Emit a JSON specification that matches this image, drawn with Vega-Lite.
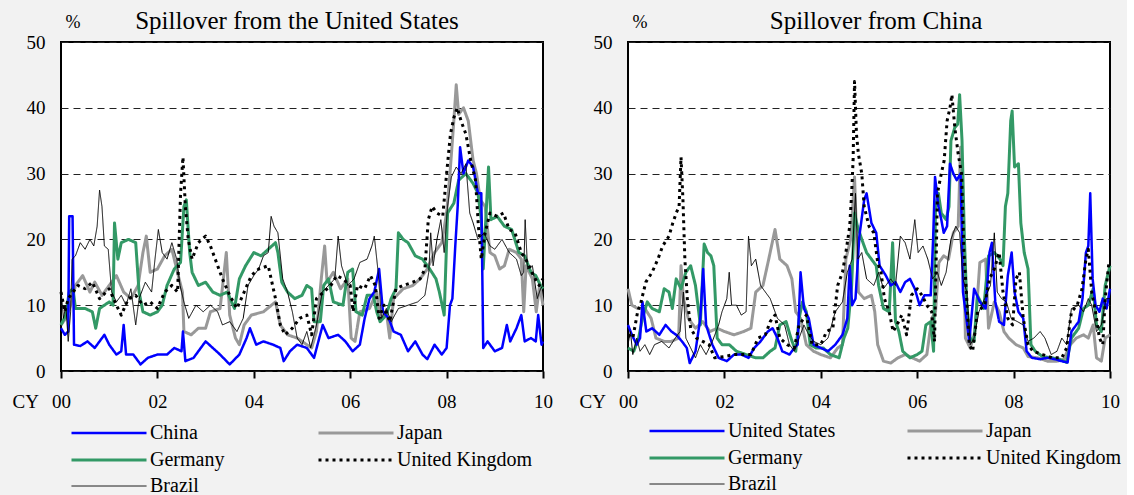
{
"$schema":"https://vega.github.io/schema/vega-lite/v6.json",
"background":"#f2f2f2",
"padding":{"left":11,"top":8,"right":5,"bottom":5},
"bounds":"flush",
"spacing":85,
"config":{
 "font":"Liberation Serif",
 "view":{"stroke":"black","strokeWidth":2,"fill":"white"},
 "title":{"fontSize":25,"fontWeight":"normal","frame":"group","offset":-21,"color":"black","anchor":"middle"},
 "axis":{"labelColor":"black","titleColor":"black","labelFontSize":19,"titleFontSize":19,"titleFontWeight":"normal","labelFlush":false,"labelOverlap":false,"labelBound":false},
 "legend":{"labelColor":"black","labelFontSize":20}
},
"datasets":{
"us":[
{"s":"Japan","t":2000,"v":7},{"s":"Japan","t":2000.1,"v":8},{"s":"Japan","t":2000.2,"v":10},{"s":"Japan","t":2000.3,"v":13},{"s":"Japan","t":2000.45,"v":14.5},{"s":"Japan","t":2000.6,"v":12},{"s":"Japan","t":2000.7,"v":13.5},{"s":"Japan","t":2000.85,"v":11.5},{"s":"Japan","t":2001,"v":13},{"s":"Japan","t":2001.15,"v":14.5},{"s":"Japan","t":2001.3,"v":12},{"s":"Japan","t":2001.45,"v":11},{"s":"Japan","t":2001.6,"v":13},{"s":"Japan","t":2001.7,"v":18},{"s":"Japan","t":2001.77,"v":20.5},{"s":"Japan","t":2001.85,"v":15},{"s":"Japan","t":2002,"v":15.5},{"s":"Japan","t":2002.15,"v":17.5},{"s":"Japan","t":2002.3,"v":18.5},{"s":"Japan","t":2002.45,"v":14},{"s":"Japan","t":2002.52,"v":12},{"s":"Japan","t":2002.55,"v":6},{"s":"Japan","t":2002.7,"v":5.5},{"s":"Japan","t":2002.85,"v":6.5},{"s":"Japan","t":2003,"v":6.5},{"s":"Japan","t":2003.1,"v":9},{"s":"Japan","t":2003.3,"v":9.5},{"s":"Japan","t":2003.43,"v":18},{"s":"Japan","t":2003.5,"v":8.5},{"s":"Japan","t":2003.62,"v":5},{"s":"Japan","t":2003.7,"v":4},{"s":"Japan","t":2003.8,"v":7},{"s":"Japan","t":2003.95,"v":8.5},{"s":"Japan","t":2004.2,"v":9},{"s":"Japan","t":2004.45,"v":10.5},{"s":"Japan","t":2004.55,"v":7},{"s":"Japan","t":2004.7,"v":5.5},{"s":"Japan","t":2004.9,"v":5},{"s":"Japan","t":2005.1,"v":4},{"s":"Japan","t":2005.2,"v":3.5},{"s":"Japan","t":2005.3,"v":6},{"s":"Japan","t":2005.4,"v":14},{"s":"Japan","t":2005.47,"v":19},{"s":"Japan","t":2005.52,"v":13.5},{"s":"Japan","t":2005.65,"v":15},{"s":"Japan","t":2005.8,"v":12.5},{"s":"Japan","t":2005.95,"v":14},{"s":"Japan","t":2006.02,"v":5},{"s":"Japan","t":2006.1,"v":4.5},{"s":"Japan","t":2006.2,"v":9},{"s":"Japan","t":2006.4,"v":9.5},{"s":"Japan","t":2006.55,"v":12},{"s":"Japan","t":2006.62,"v":8},{"s":"Japan","t":2006.75,"v":9},{"s":"Japan","t":2006.82,"v":5},{"s":"Japan","t":2006.9,"v":11},{"s":"Japan","t":2007.1,"v":12.5},{"s":"Japan","t":2007.3,"v":13},{"s":"Japan","t":2007.45,"v":14},{"s":"Japan","t":2007.6,"v":15.5},{"s":"Japan","t":2007.75,"v":18},{"s":"Japan","t":2007.9,"v":19.5},{"s":"Japan","t":2008,"v":24},{"s":"Japan","t":2008.07,"v":30},{"s":"Japan","t":2008.15,"v":38},{"s":"Japan","t":2008.2,"v":43.5},{"s":"Japan","t":2008.25,"v":39},{"s":"Japan","t":2008.35,"v":40},{"s":"Japan","t":2008.45,"v":38},{"s":"Japan","t":2008.55,"v":32},{"s":"Japan","t":2008.62,"v":30},{"s":"Japan","t":2008.7,"v":26},{"s":"Japan","t":2008.8,"v":25},{"s":"Japan","t":2008.9,"v":18},{"s":"Japan","t":2009,"v":17.5},{"s":"Japan","t":2009.1,"v":15.5},{"s":"Japan","t":2009.2,"v":16},{"s":"Japan","t":2009.3,"v":18.5},{"s":"Japan","t":2009.45,"v":18},{"s":"Japan","t":2009.55,"v":17},{"s":"Japan","t":2009.6,"v":9},{"s":"Japan","t":2009.65,"v":16},{"s":"Japan","t":2009.78,"v":14},{"s":"Japan","t":2009.86,"v":9},{"s":"Japan","t":2009.93,"v":13},{"s":"Japan","t":2010,"v":10},
{"s":"Germany","t":2000,"v":7},{"s":"Germany","t":2000.1,"v":8.5},{"s":"Germany","t":2000.17,"v":12},{"s":"Germany","t":2000.25,"v":12.5},{"s":"Germany","t":2000.3,"v":9.5},{"s":"Germany","t":2000.5,"v":9.5},{"s":"Germany","t":2000.65,"v":9},{"s":"Germany","t":2000.72,"v":6.5},{"s":"Germany","t":2000.8,"v":9.5},{"s":"Germany","t":2001,"v":10.5},{"s":"Germany","t":2001.08,"v":10},{"s":"Germany","t":2001.11,"v":22.5},{"s":"Germany","t":2001.18,"v":17},{"s":"Germany","t":2001.25,"v":19.5},{"s":"Germany","t":2001.4,"v":20},{"s":"Germany","t":2001.55,"v":19.5},{"s":"Germany","t":2001.62,"v":12},{"s":"Germany","t":2001.7,"v":9},{"s":"Germany","t":2001.85,"v":8.5},{"s":"Germany","t":2002,"v":9},{"s":"Germany","t":2002.1,"v":10},{"s":"Germany","t":2002.2,"v":13},{"s":"Germany","t":2002.35,"v":15.5},{"s":"Germany","t":2002.48,"v":16.5},{"s":"Germany","t":2002.55,"v":25},{"s":"Germany","t":2002.6,"v":26},{"s":"Germany","t":2002.67,"v":18},{"s":"Germany","t":2002.72,"v":15},{"s":"Germany","t":2002.85,"v":13},{"s":"Germany","t":2003,"v":13.5},{"s":"Germany","t":2003.15,"v":12},{"s":"Germany","t":2003.3,"v":11.5},{"s":"Germany","t":2003.45,"v":12},{"s":"Germany","t":2003.6,"v":9.5},{"s":"Germany","t":2003.7,"v":14},{"s":"Germany","t":2003.83,"v":16},{"s":"Germany","t":2004,"v":18},{"s":"Germany","t":2004.15,"v":17.5},{"s":"Germany","t":2004.3,"v":18.5},{"s":"Germany","t":2004.45,"v":19.5},{"s":"Germany","t":2004.5,"v":18},{"s":"Germany","t":2004.58,"v":13.5},{"s":"Germany","t":2004.7,"v":12},{"s":"Germany","t":2004.85,"v":11},{"s":"Germany","t":2005,"v":11.5},{"s":"Germany","t":2005.1,"v":13},{"s":"Germany","t":2005.2,"v":12.5},{"s":"Germany","t":2005.25,"v":7.5},{"s":"Germany","t":2005.38,"v":7.5},{"s":"Germany","t":2005.45,"v":13},{"s":"Germany","t":2005.55,"v":14},{"s":"Germany","t":2005.65,"v":10.5},{"s":"Germany","t":2005.85,"v":10},{"s":"Germany","t":2005.95,"v":15},{"s":"Germany","t":2006.05,"v":15.5},{"s":"Germany","t":2006.12,"v":9},{"s":"Germany","t":2006.25,"v":8.5},{"s":"Germany","t":2006.35,"v":11.5},{"s":"Germany","t":2006.48,"v":11.5},{"s":"Germany","t":2006.55,"v":9},{"s":"Germany","t":2006.62,"v":7.5},{"s":"Germany","t":2006.75,"v":8.5},{"s":"Germany","t":2006.85,"v":11},{"s":"Germany","t":2006.95,"v":12.5},{"s":"Germany","t":2007,"v":21},{"s":"Germany","t":2007.1,"v":20},{"s":"Germany","t":2007.2,"v":19.5},{"s":"Germany","t":2007.35,"v":17.5},{"s":"Germany","t":2007.5,"v":17},{"s":"Germany","t":2007.65,"v":15.5},{"s":"Germany","t":2007.78,"v":14},{"s":"Germany","t":2007.85,"v":12},{"s":"Germany","t":2007.95,"v":8.5},{"s":"Germany","t":2008.02,"v":24},{"s":"Germany","t":2008.15,"v":25.5},{"s":"Germany","t":2008.25,"v":29},{"s":"Germany","t":2008.4,"v":30},{"s":"Germany","t":2008.55,"v":28.5},{"s":"Germany","t":2008.65,"v":27},{"s":"Germany","t":2008.72,"v":23},{"s":"Germany","t":2008.76,"v":15.5},{"s":"Germany","t":2008.82,"v":24},{"s":"Germany","t":2008.87,"v":31},{"s":"Germany","t":2008.92,"v":23},{"s":"Germany","t":2009.05,"v":23.5},{"s":"Germany","t":2009.2,"v":22},{"s":"Germany","t":2009.35,"v":21.5},{"s":"Germany","t":2009.5,"v":18},{"s":"Germany","t":2009.62,"v":17.5},{"s":"Germany","t":2009.75,"v":15},{"s":"Germany","t":2009.85,"v":14.5},{"s":"Germany","t":2009.95,"v":13},{"s":"Germany","t":2010,"v":12.5},
{"s":"China","t":2000,"v":6.5},{"s":"China","t":2000.08,"v":5.5},{"s":"China","t":2000.15,"v":6},{"s":"China","t":2000.17,"v":23.5},{"s":"China","t":2000.24,"v":23.5},{"s":"China","t":2000.27,"v":4},{"s":"China","t":2000.4,"v":3.8},{"s":"China","t":2000.55,"v":4.5},{"s":"China","t":2000.7,"v":3.5},{"s":"China","t":2000.9,"v":5.5},{"s":"China","t":2001,"v":4},{"s":"China","t":2001.15,"v":2.5},{"s":"China","t":2001.25,"v":3},{"s":"China","t":2001.3,"v":7},{"s":"China","t":2001.35,"v":2.5},{"s":"China","t":2001.5,"v":2.5},{"s":"China","t":2001.65,"v":1},{"s":"China","t":2001.8,"v":2},{"s":"China","t":2002,"v":2.5},{"s":"China","t":2002.2,"v":2.5},{"s":"China","t":2002.35,"v":3.5},{"s":"China","t":2002.5,"v":3},{"s":"China","t":2002.53,"v":6},{"s":"China","t":2002.58,"v":1.5},{"s":"China","t":2002.75,"v":2},{"s":"China","t":2002.9,"v":3.5},{"s":"China","t":2003,"v":4.5},{"s":"China","t":2003.15,"v":3.5},{"s":"China","t":2003.3,"v":2.5},{"s":"China","t":2003.5,"v":1},{"s":"China","t":2003.7,"v":2.5},{"s":"China","t":2003.85,"v":5},{"s":"China","t":2003.92,"v":6.5},{"s":"China","t":2004.05,"v":4},{"s":"China","t":2004.2,"v":4.5},{"s":"China","t":2004.4,"v":4},{"s":"China","t":2004.55,"v":3.5},{"s":"China","t":2004.62,"v":1.5},{"s":"China","t":2004.75,"v":3},{"s":"China","t":2004.9,"v":4},{"s":"China","t":2005.1,"v":3.5},{"s":"China","t":2005.25,"v":2},{"s":"China","t":2005.43,"v":7},{"s":"China","t":2005.55,"v":5},{"s":"China","t":2005.75,"v":5.5},{"s":"China","t":2005.9,"v":4.5},{"s":"China","t":2006.05,"v":3},{"s":"China","t":2006.2,"v":4},{"s":"China","t":2006.3,"v":8},{"s":"China","t":2006.4,"v":11},{"s":"China","t":2006.5,"v":12},{"s":"China","t":2006.6,"v":15.5},{"s":"China","t":2006.68,"v":9},{"s":"China","t":2006.8,"v":8},{"s":"China","t":2006.9,"v":6},{"s":"China","t":2007.05,"v":5.5},{"s":"China","t":2007.2,"v":3},{"s":"China","t":2007.35,"v":4.5},{"s":"China","t":2007.5,"v":2.5},{"s":"China","t":2007.6,"v":1.8},{"s":"China","t":2007.75,"v":4},{"s":"China","t":2007.9,"v":2.5},{"s":"China","t":2008,"v":3.5},{"s":"China","t":2008.07,"v":10},{"s":"China","t":2008.12,"v":11},{"s":"China","t":2008.18,"v":19},{"s":"China","t":2008.23,"v":25},{"s":"China","t":2008.28,"v":34},{"s":"China","t":2008.35,"v":30},{"s":"China","t":2008.45,"v":32},{"s":"China","t":2008.55,"v":31},{"s":"China","t":2008.65,"v":27},{"s":"China","t":2008.72,"v":27},{"s":"China","t":2008.76,"v":3.5},{"s":"China","t":2008.85,"v":4.5},{"s":"China","t":2009,"v":3},{"s":"China","t":2009.15,"v":3.5},{"s":"China","t":2009.25,"v":7},{"s":"China","t":2009.32,"v":4.5},{"s":"China","t":2009.45,"v":6.5},{"s":"China","t":2009.55,"v":8.5},{"s":"China","t":2009.62,"v":4.5},{"s":"China","t":2009.75,"v":5},{"s":"China","t":2009.85,"v":4.5},{"s":"China","t":2009.9,"v":8.5},{"s":"China","t":2009.97,"v":4},{"s":"China","t":2010,"v":4.5},
{"s":"United Kingdom","t":2000,"v":12},{"s":"United Kingdom","t":2000.08,"v":9},{"s":"United Kingdom","t":2000.15,"v":11},{"s":"United Kingdom","t":2000.25,"v":12},{"s":"United Kingdom","t":2000.35,"v":13},{"s":"United Kingdom","t":2000.5,"v":12.5},{"s":"United Kingdom","t":2000.65,"v":13.5},{"s":"United Kingdom","t":2000.8,"v":11},{"s":"United Kingdom","t":2001,"v":12.5},{"s":"United Kingdom","t":2001.15,"v":10},{"s":"United Kingdom","t":2001.25,"v":8.5},{"s":"United Kingdom","t":2001.4,"v":11},{"s":"United Kingdom","t":2001.55,"v":11.5},{"s":"United Kingdom","t":2001.7,"v":10},{"s":"United Kingdom","t":2001.85,"v":10.5},{"s":"United Kingdom","t":2002,"v":9.5},{"s":"United Kingdom","t":2002.15,"v":12},{"s":"United Kingdom","t":2002.3,"v":13},{"s":"United Kingdom","t":2002.42,"v":12},{"s":"United Kingdom","t":2002.48,"v":27},{"s":"United Kingdom","t":2002.53,"v":32.5},{"s":"United Kingdom","t":2002.58,"v":25},{"s":"United Kingdom","t":2002.64,"v":20},{"s":"United Kingdom","t":2002.72,"v":17},{"s":"United Kingdom","t":2002.85,"v":19.5},{"s":"United Kingdom","t":2003,"v":20.5},{"s":"United Kingdom","t":2003.1,"v":19},{"s":"United Kingdom","t":2003.2,"v":17},{"s":"United Kingdom","t":2003.35,"v":14},{"s":"United Kingdom","t":2003.5,"v":11.5},{"s":"United Kingdom","t":2003.65,"v":9.5},{"s":"United Kingdom","t":2003.8,"v":12},{"s":"United Kingdom","t":2003.95,"v":14.5},{"s":"United Kingdom","t":2004.1,"v":15.5},{"s":"United Kingdom","t":2004.3,"v":16},{"s":"United Kingdom","t":2004.45,"v":11},{"s":"United Kingdom","t":2004.55,"v":7},{"s":"United Kingdom","t":2004.65,"v":5.5},{"s":"United Kingdom","t":2004.8,"v":6.5},{"s":"United Kingdom","t":2004.95,"v":8},{"s":"United Kingdom","t":2005.1,"v":8.5},{"s":"United Kingdom","t":2005.2,"v":5.5},{"s":"United Kingdom","t":2005.3,"v":11},{"s":"United Kingdom","t":2005.45,"v":12},{"s":"United Kingdom","t":2005.6,"v":13},{"s":"United Kingdom","t":2005.72,"v":14.5},{"s":"United Kingdom","t":2005.85,"v":14},{"s":"United Kingdom","t":2006,"v":13},{"s":"United Kingdom","t":2006.06,"v":9},{"s":"United Kingdom","t":2006.15,"v":13},{"s":"United Kingdom","t":2006.3,"v":12.5},{"s":"United Kingdom","t":2006.42,"v":14.5},{"s":"United Kingdom","t":2006.52,"v":13},{"s":"United Kingdom","t":2006.6,"v":8},{"s":"United Kingdom","t":2006.7,"v":10},{"s":"United Kingdom","t":2006.82,"v":7.5},{"s":"United Kingdom","t":2006.95,"v":12.5},{"s":"United Kingdom","t":2007.1,"v":13},{"s":"United Kingdom","t":2007.3,"v":13.5},{"s":"United Kingdom","t":2007.45,"v":14},{"s":"United Kingdom","t":2007.55,"v":15.5},{"s":"United Kingdom","t":2007.62,"v":23},{"s":"United Kingdom","t":2007.7,"v":25},{"s":"United Kingdom","t":2007.8,"v":24},{"s":"United Kingdom","t":2007.92,"v":23.5},{"s":"United Kingdom","t":2008,"v":30},{"s":"United Kingdom","t":2008.08,"v":36},{"s":"United Kingdom","t":2008.15,"v":38.5},{"s":"United Kingdom","t":2008.22,"v":40},{"s":"United Kingdom","t":2008.3,"v":38},{"s":"United Kingdom","t":2008.4,"v":36},{"s":"United Kingdom","t":2008.5,"v":32},{"s":"United Kingdom","t":2008.6,"v":29},{"s":"United Kingdom","t":2008.66,"v":22},{"s":"United Kingdom","t":2008.72,"v":17},{"s":"United Kingdom","t":2008.8,"v":21},{"s":"United Kingdom","t":2008.9,"v":24},{"s":"United Kingdom","t":2009.05,"v":23.5},{"s":"United Kingdom","t":2009.18,"v":24},{"s":"United Kingdom","t":2009.3,"v":21.5},{"s":"United Kingdom","t":2009.42,"v":21},{"s":"United Kingdom","t":2009.55,"v":18},{"s":"United Kingdom","t":2009.68,"v":16.5},{"s":"United Kingdom","t":2009.8,"v":14.5},{"s":"United Kingdom","t":2009.92,"v":13},{"s":"United Kingdom","t":2010,"v":14},
{"s":"Brazil","t":2000,"v":12.5},{"s":"Brazil","t":2000.05,"v":8},{"s":"Brazil","t":2000.1,"v":10},{"s":"Brazil","t":2000.15,"v":4.5},{"s":"Brazil","t":2000.2,"v":9},{"s":"Brazil","t":2000.23,"v":17},{"s":"Brazil","t":2000.3,"v":17.5},{"s":"Brazil","t":2000.4,"v":19.5},{"s":"Brazil","t":2000.5,"v":18.5},{"s":"Brazil","t":2000.6,"v":20},{"s":"Brazil","t":2000.68,"v":19},{"s":"Brazil","t":2000.75,"v":22},{"s":"Brazil","t":2000.8,"v":27.5},{"s":"Brazil","t":2000.85,"v":25},{"s":"Brazil","t":2000.9,"v":19},{"s":"Brazil","t":2000.98,"v":18.5},{"s":"Brazil","t":2001.05,"v":12},{"s":"Brazil","t":2001.15,"v":10.5},{"s":"Brazil","t":2001.25,"v":11.5},{"s":"Brazil","t":2001.35,"v":10},{"s":"Brazil","t":2001.45,"v":12.5},{"s":"Brazil","t":2001.55,"v":7},{"s":"Brazil","t":2001.62,"v":11},{"s":"Brazil","t":2001.75,"v":13.5},{"s":"Brazil","t":2001.88,"v":12},{"s":"Brazil","t":2001.95,"v":17},{"s":"Brazil","t":2002.02,"v":21.5},{"s":"Brazil","t":2002.1,"v":18},{"s":"Brazil","t":2002.2,"v":17},{"s":"Brazil","t":2002.3,"v":19.5},{"s":"Brazil","t":2002.4,"v":17},{"s":"Brazil","t":2002.47,"v":13},{"s":"Brazil","t":2002.55,"v":10.5},{"s":"Brazil","t":2002.65,"v":8},{"s":"Brazil","t":2002.8,"v":10},{"s":"Brazil","t":2002.95,"v":9},{"s":"Brazil","t":2003.1,"v":10},{"s":"Brazil","t":2003.25,"v":9},{"s":"Brazil","t":2003.35,"v":7},{"s":"Brazil","t":2003.5,"v":7.5},{"s":"Brazil","t":2003.65,"v":6},{"s":"Brazil","t":2003.78,"v":8},{"s":"Brazil","t":2003.88,"v":13},{"s":"Brazil","t":2004,"v":14.5},{"s":"Brazil","t":2004.1,"v":15.5},{"s":"Brazil","t":2004.2,"v":17.5},{"s":"Brazil","t":2004.3,"v":18},{"s":"Brazil","t":2004.36,"v":23.5},{"s":"Brazil","t":2004.42,"v":22},{"s":"Brazil","t":2004.5,"v":21},{"s":"Brazil","t":2004.6,"v":14},{"s":"Brazil","t":2004.7,"v":12},{"s":"Brazil","t":2004.8,"v":9},{"s":"Brazil","t":2004.9,"v":5},{"s":"Brazil","t":2005,"v":4},{"s":"Brazil","t":2005.1,"v":6},{"s":"Brazil","t":2005.18,"v":3.5},{"s":"Brazil","t":2005.3,"v":7},{"s":"Brazil","t":2005.42,"v":12},{"s":"Brazil","t":2005.55,"v":13},{"s":"Brazil","t":2005.68,"v":14},{"s":"Brazil","t":2005.75,"v":20.5},{"s":"Brazil","t":2005.82,"v":16},{"s":"Brazil","t":2005.95,"v":13},{"s":"Brazil","t":2006.08,"v":14},{"s":"Brazil","t":2006.2,"v":16.5},{"s":"Brazil","t":2006.35,"v":17},{"s":"Brazil","t":2006.45,"v":19},{"s":"Brazil","t":2006.5,"v":20.5},{"s":"Brazil","t":2006.58,"v":15},{"s":"Brazil","t":2006.65,"v":8},{"s":"Brazil","t":2006.75,"v":9.5},{"s":"Brazil","t":2006.85,"v":7.5},{"s":"Brazil","t":2007,"v":9.5},{"s":"Brazil","t":2007.2,"v":10},{"s":"Brazil","t":2007.4,"v":10.5},{"s":"Brazil","t":2007.55,"v":11.5},{"s":"Brazil","t":2007.63,"v":15},{"s":"Brazil","t":2007.67,"v":21},{"s":"Brazil","t":2007.72,"v":16},{"s":"Brazil","t":2007.8,"v":20},{"s":"Brazil","t":2007.88,"v":23},{"s":"Brazil","t":2007.95,"v":18},{"s":"Brazil","t":2008.02,"v":25},{"s":"Brazil","t":2008.1,"v":29.5},{"s":"Brazil","t":2008.2,"v":31},{"s":"Brazil","t":2008.3,"v":30},{"s":"Brazil","t":2008.4,"v":31.5},{"s":"Brazil","t":2008.48,"v":24},{"s":"Brazil","t":2008.55,"v":22.5},{"s":"Brazil","t":2008.65,"v":20},{"s":"Brazil","t":2008.78,"v":21},{"s":"Brazil","t":2008.9,"v":19},{"s":"Brazil","t":2009,"v":18.5},{"s":"Brazil","t":2009.15,"v":20},{"s":"Brazil","t":2009.3,"v":18},{"s":"Brazil","t":2009.45,"v":17},{"s":"Brazil","t":2009.55,"v":14.5},{"s":"Brazil","t":2009.6,"v":15},{"s":"Brazil","t":2009.63,"v":23},{"s":"Brazil","t":2009.68,"v":15.5},{"s":"Brazil","t":2009.78,"v":16},{"s":"Brazil","t":2009.88,"v":11},{"s":"Brazil","t":2009.95,"v":12.5},{"s":"Brazil","t":2010,"v":13}
],
"cn":[
{"s":"Japan","t":2000,"v":12.5},{"s":"Japan","t":2000.08,"v":10},{"s":"Japan","t":2000.2,"v":9.5},{"s":"Japan","t":2000.35,"v":9.5},{"s":"Japan","t":2000.48,"v":8},{"s":"Japan","t":2000.58,"v":5},{"s":"Japan","t":2000.75,"v":4.5},{"s":"Japan","t":2000.9,"v":4.5},{"s":"Japan","t":2001.05,"v":5},{"s":"Japan","t":2001.1,"v":16},{"s":"Japan","t":2001.15,"v":11},{"s":"Japan","t":2001.25,"v":8},{"s":"Japan","t":2001.4,"v":6.5},{"s":"Japan","t":2001.55,"v":7.5},{"s":"Japan","t":2001.7,"v":6},{"s":"Japan","t":2001.85,"v":6.5},{"s":"Japan","t":2002,"v":6},{"s":"Japan","t":2002.2,"v":5.5},{"s":"Japan","t":2002.4,"v":6},{"s":"Japan","t":2002.55,"v":6.5},{"s":"Japan","t":2002.65,"v":12},{"s":"Japan","t":2002.8,"v":13},{"s":"Japan","t":2002.92,"v":17},{"s":"Japan","t":2003.05,"v":21.5},{"s":"Japan","t":2003.15,"v":17},{"s":"Japan","t":2003.3,"v":16},{"s":"Japan","t":2003.4,"v":14},{"s":"Japan","t":2003.48,"v":9},{"s":"Japan","t":2003.58,"v":8},{"s":"Japan","t":2003.7,"v":4},{"s":"Japan","t":2003.85,"v":3},{"s":"Japan","t":2004,"v":2.5},{"s":"Japan","t":2004.2,"v":2},{"s":"Japan","t":2004.35,"v":3.5},{"s":"Japan","t":2004.45,"v":4},{"s":"Japan","t":2004.52,"v":17},{"s":"Japan","t":2004.62,"v":20},{"s":"Japan","t":2004.7,"v":29.5},{"s":"Japan","t":2004.78,"v":12},{"s":"Japan","t":2004.9,"v":11},{"s":"Japan","t":2005.05,"v":11.5},{"s":"Japan","t":2005.12,"v":9},{"s":"Japan","t":2005.18,"v":4},{"s":"Japan","t":2005.3,"v":1.5},{"s":"Japan","t":2005.45,"v":1.2},{"s":"Japan","t":2005.6,"v":2},{"s":"Japan","t":2005.75,"v":2.5},{"s":"Japan","t":2005.9,"v":2},{"s":"Japan","t":2006.05,"v":1.5},{"s":"Japan","t":2006.2,"v":2.5},{"s":"Japan","t":2006.3,"v":8},{"s":"Japan","t":2006.38,"v":9},{"s":"Japan","t":2006.45,"v":16.5},{"s":"Japan","t":2006.55,"v":17.5},{"s":"Japan","t":2006.65,"v":17},{"s":"Japan","t":2006.75,"v":21},{"s":"Japan","t":2006.85,"v":22},{"s":"Japan","t":2006.9,"v":34},{"s":"Japan","t":2006.95,"v":25},{"s":"Japan","t":2007,"v":5},{"s":"Japan","t":2007.1,"v":3.5},{"s":"Japan","t":2007.2,"v":6},{"s":"Japan","t":2007.3,"v":16.5},{"s":"Japan","t":2007.42,"v":17},{"s":"Japan","t":2007.48,"v":6.5},{"s":"Japan","t":2007.6,"v":10.5},{"s":"Japan","t":2007.7,"v":9},{"s":"Japan","t":2007.8,"v":6},{"s":"Japan","t":2007.9,"v":5},{"s":"Japan","t":2008.05,"v":4},{"s":"Japan","t":2008.2,"v":3.5},{"s":"Japan","t":2008.3,"v":2.2},{"s":"Japan","t":2008.5,"v":2},{"s":"Japan","t":2008.7,"v":1.5},{"s":"Japan","t":2008.9,"v":1.5},{"s":"Japan","t":2009.05,"v":1.8},{"s":"Japan","t":2009.15,"v":3.8},{"s":"Japan","t":2009.3,"v":5},{"s":"Japan","t":2009.45,"v":5.5},{"s":"Japan","t":2009.55,"v":5},{"s":"Japan","t":2009.65,"v":7},{"s":"Japan","t":2009.72,"v":2},{"s":"Japan","t":2009.82,"v":1.5},{"s":"Japan","t":2009.9,"v":5},{"s":"Japan","t":2010,"v":5.5},
{"s":"Germany","t":2000,"v":3.5},{"s":"Germany","t":2000.12,"v":3},{"s":"Germany","t":2000.22,"v":5},{"s":"Germany","t":2000.3,"v":8},{"s":"Germany","t":2000.4,"v":10.5},{"s":"Germany","t":2000.5,"v":9.5},{"s":"Germany","t":2000.65,"v":9},{"s":"Germany","t":2000.75,"v":12.5},{"s":"Germany","t":2000.85,"v":12},{"s":"Germany","t":2000.92,"v":9.5},{"s":"Germany","t":2001,"v":14},{"s":"Germany","t":2001.1,"v":12.5},{"s":"Germany","t":2001.2,"v":15},{"s":"Germany","t":2001.3,"v":16},{"s":"Germany","t":2001.4,"v":13},{"s":"Germany","t":2001.5,"v":7},{"s":"Germany","t":2001.58,"v":19.3},{"s":"Germany","t":2001.65,"v":18},{"s":"Germany","t":2001.72,"v":17.5},{"s":"Germany","t":2001.78,"v":16},{"s":"Germany","t":2001.85,"v":5},{"s":"Germany","t":2001.95,"v":4},{"s":"Germany","t":2002.1,"v":4},{"s":"Germany","t":2002.25,"v":3},{"s":"Germany","t":2002.45,"v":2.5},{"s":"Germany","t":2002.65,"v":2},{"s":"Germany","t":2002.8,"v":2},{"s":"Germany","t":2002.95,"v":3},{"s":"Germany","t":2003.05,"v":3.5},{"s":"Germany","t":2003.15,"v":7},{"s":"Germany","t":2003.28,"v":7.5},{"s":"Germany","t":2003.38,"v":5},{"s":"Germany","t":2003.48,"v":3},{"s":"Germany","t":2003.55,"v":8},{"s":"Germany","t":2003.62,"v":10.5},{"s":"Germany","t":2003.7,"v":9},{"s":"Germany","t":2003.78,"v":4},{"s":"Germany","t":2003.9,"v":3.5},{"s":"Germany","t":2004.05,"v":3.5},{"s":"Germany","t":2004.2,"v":2.5},{"s":"Germany","t":2004.38,"v":2},{"s":"Germany","t":2004.48,"v":5},{"s":"Germany","t":2004.56,"v":6.5},{"s":"Germany","t":2004.64,"v":13},{"s":"Germany","t":2004.7,"v":24},{"s":"Germany","t":2004.76,"v":22},{"s":"Germany","t":2004.85,"v":20},{"s":"Germany","t":2004.95,"v":18},{"s":"Germany","t":2005.05,"v":17},{"s":"Germany","t":2005.15,"v":16},{"s":"Germany","t":2005.2,"v":13},{"s":"Germany","t":2005.3,"v":9.5},{"s":"Germany","t":2005.42,"v":9},{"s":"Germany","t":2005.49,"v":19.5},{"s":"Germany","t":2005.55,"v":7.5},{"s":"Germany","t":2005.62,"v":6},{"s":"Germany","t":2005.7,"v":3},{"s":"Germany","t":2005.85,"v":2},{"s":"Germany","t":2006,"v":2.5},{"s":"Germany","t":2006.1,"v":3},{"s":"Germany","t":2006.18,"v":7},{"s":"Germany","t":2006.28,"v":7.5},{"s":"Germany","t":2006.34,"v":3},{"s":"Germany","t":2006.38,"v":25},{"s":"Germany","t":2006.44,"v":27},{"s":"Germany","t":2006.5,"v":24},{"s":"Germany","t":2006.6,"v":23},{"s":"Germany","t":2006.66,"v":25},{"s":"Germany","t":2006.7,"v":35},{"s":"Germany","t":2006.78,"v":37},{"s":"Germany","t":2006.84,"v":37.5},{"s":"Germany","t":2006.88,"v":42},{"s":"Germany","t":2006.93,"v":35},{"s":"Germany","t":2006.98,"v":20},{"s":"Germany","t":2007.03,"v":10},{"s":"Germany","t":2007.1,"v":5},{"s":"Germany","t":2007.18,"v":4.5},{"s":"Germany","t":2007.25,"v":11.5},{"s":"Germany","t":2007.38,"v":9.5},{"s":"Germany","t":2007.48,"v":17.5},{"s":"Germany","t":2007.6,"v":18},{"s":"Germany","t":2007.72,"v":17},{"s":"Germany","t":2007.78,"v":16},{"s":"Germany","t":2007.83,"v":25},{"s":"Germany","t":2007.88,"v":27},{"s":"Germany","t":2007.94,"v":38},{"s":"Germany","t":2007.97,"v":39.5},{"s":"Germany","t":2008.02,"v":31},{"s":"Germany","t":2008.1,"v":31.5},{"s":"Germany","t":2008.15,"v":22.5},{"s":"Germany","t":2008.22,"v":18},{"s":"Germany","t":2008.3,"v":15.5},{"s":"Germany","t":2008.36,"v":4},{"s":"Germany","t":2008.45,"v":3},{"s":"Germany","t":2008.6,"v":2.2},{"s":"Germany","t":2008.8,"v":2},{"s":"Germany","t":2008.95,"v":1.8},{"s":"Germany","t":2009.1,"v":1.3},{"s":"Germany","t":2009.2,"v":5},{"s":"Germany","t":2009.35,"v":6.5},{"s":"Germany","t":2009.45,"v":9.5},{"s":"Germany","t":2009.55,"v":10},{"s":"Germany","t":2009.65,"v":12.5},{"s":"Germany","t":2009.72,"v":7},{"s":"Germany","t":2009.82,"v":6},{"s":"Germany","t":2009.9,"v":13},{"s":"Germany","t":2010,"v":16},
{"s":"United States","t":2000,"v":7},{"s":"United States","t":2000.08,"v":5.5},{"s":"United States","t":2000.18,"v":4},{"s":"United States","t":2000.25,"v":5},{"s":"United States","t":2000.3,"v":10.5},{"s":"United States","t":2000.38,"v":6},{"s":"United States","t":2000.5,"v":6.5},{"s":"United States","t":2000.65,"v":5.5},{"s":"United States","t":2000.78,"v":7},{"s":"United States","t":2000.9,"v":6},{"s":"United States","t":2001,"v":5.5},{"s":"United States","t":2001.12,"v":4.5},{"s":"United States","t":2001.22,"v":3.5},{"s":"United States","t":2001.28,"v":1.2},{"s":"United States","t":2001.4,"v":3},{"s":"United States","t":2001.5,"v":8},{"s":"United States","t":2001.56,"v":15.5},{"s":"United States","t":2001.62,"v":7},{"s":"United States","t":2001.75,"v":4},{"s":"United States","t":2001.88,"v":2},{"s":"United States","t":2002.05,"v":1.5},{"s":"United States","t":2002.2,"v":2.5},{"s":"United States","t":2002.35,"v":2.5},{"s":"United States","t":2002.5,"v":2},{"s":"United States","t":2002.62,"v":3.5},{"s":"United States","t":2002.75,"v":4.5},{"s":"United States","t":2002.9,"v":6},{"s":"United States","t":2003,"v":6.5},{"s":"United States","t":2003.1,"v":5},{"s":"United States","t":2003.2,"v":3},{"s":"United States","t":2003.35,"v":2.5},{"s":"United States","t":2003.45,"v":3.5},{"s":"United States","t":2003.52,"v":4},{"s":"United States","t":2003.58,"v":15},{"s":"United States","t":2003.65,"v":9.5},{"s":"United States","t":2003.75,"v":8},{"s":"United States","t":2003.85,"v":4},{"s":"United States","t":2004,"v":3.5},{"s":"United States","t":2004.15,"v":3},{"s":"United States","t":2004.3,"v":4},{"s":"United States","t":2004.45,"v":5.5},{"s":"United States","t":2004.55,"v":8},{"s":"United States","t":2004.6,"v":16},{"s":"United States","t":2004.65,"v":10},{"s":"United States","t":2004.72,"v":11},{"s":"United States","t":2004.8,"v":20.5},{"s":"United States","t":2004.9,"v":26},{"s":"United States","t":2004.95,"v":27},{"s":"United States","t":2005.05,"v":22.5},{"s":"United States","t":2005.15,"v":21},{"s":"United States","t":2005.22,"v":16},{"s":"United States","t":2005.35,"v":14.5},{"s":"United States","t":2005.45,"v":13},{"s":"United States","t":2005.55,"v":13.5},{"s":"United States","t":2005.65,"v":12},{"s":"United States","t":2005.75,"v":13.5},{"s":"United States","t":2005.85,"v":14},{"s":"United States","t":2005.95,"v":12.5},{"s":"United States","t":2006.05,"v":10},{"s":"United States","t":2006.15,"v":11.5},{"s":"United States","t":2006.28,"v":11.5},{"s":"United States","t":2006.33,"v":20},{"s":"United States","t":2006.37,"v":29.5},{"s":"United States","t":2006.44,"v":25},{"s":"United States","t":2006.5,"v":23},{"s":"United States","t":2006.55,"v":21},{"s":"United States","t":2006.62,"v":22},{"s":"United States","t":2006.68,"v":31.5},{"s":"United States","t":2006.75,"v":30},{"s":"United States","t":2006.82,"v":29},{"s":"United States","t":2006.9,"v":30},{"s":"United States","t":2006.95,"v":12},{"s":"United States","t":2007.02,"v":8},{"s":"United States","t":2007.08,"v":4.5},{"s":"United States","t":2007.18,"v":12.5},{"s":"United States","t":2007.3,"v":10.5},{"s":"United States","t":2007.42,"v":9.5},{"s":"United States","t":2007.5,"v":18},{"s":"United States","t":2007.55,"v":19.5},{"s":"United States","t":2007.62,"v":10.5},{"s":"United States","t":2007.7,"v":7.5},{"s":"United States","t":2007.8,"v":7},{"s":"United States","t":2007.88,"v":14.5},{"s":"United States","t":2007.96,"v":18},{"s":"United States","t":2008.02,"v":12},{"s":"United States","t":2008.1,"v":9},{"s":"United States","t":2008.2,"v":8},{"s":"United States","t":2008.27,"v":3},{"s":"United States","t":2008.38,"v":2},{"s":"United States","t":2008.55,"v":1.8},{"s":"United States","t":2008.7,"v":2},{"s":"United States","t":2008.85,"v":1.8},{"s":"United States","t":2009,"v":1.5},{"s":"United States","t":2009.12,"v":1.3},{"s":"United States","t":2009.2,"v":6},{"s":"United States","t":2009.35,"v":7.5},{"s":"United States","t":2009.43,"v":11},{"s":"United States","t":2009.5,"v":18},{"s":"United States","t":2009.55,"v":19},{"s":"United States","t":2009.59,"v":27},{"s":"United States","t":2009.64,"v":14},{"s":"United States","t":2009.7,"v":10},{"s":"United States","t":2009.78,"v":9},{"s":"United States","t":2009.85,"v":11},{"s":"United States","t":2009.93,"v":9.5},{"s":"United States","t":2010,"v":12.5},
{"s":"United Kingdom","t":2000,"v":5.5},{"s":"United Kingdom","t":2000.1,"v":5},{"s":"United Kingdom","t":2000.2,"v":9},{"s":"United Kingdom","t":2000.27,"v":10.5},{"s":"United Kingdom","t":2000.37,"v":13.5},{"s":"United Kingdom","t":2000.5,"v":15},{"s":"United Kingdom","t":2000.62,"v":17},{"s":"United Kingdom","t":2000.72,"v":19},{"s":"United Kingdom","t":2000.85,"v":20.5},{"s":"United Kingdom","t":2000.93,"v":22.5},{"s":"United Kingdom","t":2001,"v":24},{"s":"United Kingdom","t":2001.06,"v":25},{"s":"United Kingdom","t":2001.1,"v":32.5},{"s":"United Kingdom","t":2001.14,"v":26},{"s":"United Kingdom","t":2001.18,"v":17},{"s":"United Kingdom","t":2001.23,"v":11},{"s":"United Kingdom","t":2001.3,"v":6.5},{"s":"United Kingdom","t":2001.42,"v":5},{"s":"United Kingdom","t":2001.55,"v":4.5},{"s":"United Kingdom","t":2001.68,"v":4},{"s":"United Kingdom","t":2001.8,"v":2},{"s":"United Kingdom","t":2002,"v":2.2},{"s":"United Kingdom","t":2002.2,"v":2.5},{"s":"United Kingdom","t":2002.4,"v":2.5},{"s":"United Kingdom","t":2002.55,"v":2.5},{"s":"United Kingdom","t":2002.7,"v":5},{"s":"United Kingdom","t":2002.85,"v":5.5},{"s":"United Kingdom","t":2002.95,"v":7.5},{"s":"United Kingdom","t":2003.05,"v":8.5},{"s":"United Kingdom","t":2003.15,"v":5},{"s":"United Kingdom","t":2003.3,"v":4},{"s":"United Kingdom","t":2003.45,"v":3.5},{"s":"United Kingdom","t":2003.55,"v":7},{"s":"United Kingdom","t":2003.7,"v":8.5},{"s":"United Kingdom","t":2003.82,"v":4},{"s":"United Kingdom","t":2004,"v":4},{"s":"United Kingdom","t":2004.12,"v":6},{"s":"United Kingdom","t":2004.25,"v":6.5},{"s":"United Kingdom","t":2004.35,"v":13},{"s":"United Kingdom","t":2004.45,"v":15},{"s":"United Kingdom","t":2004.52,"v":18},{"s":"United Kingdom","t":2004.6,"v":22},{"s":"United Kingdom","t":2004.64,"v":27},{"s":"United Kingdom","t":2004.67,"v":32},{"s":"United Kingdom","t":2004.7,"v":44},{"s":"United Kingdom","t":2004.74,"v":36},{"s":"United Kingdom","t":2004.78,"v":33},{"s":"United Kingdom","t":2004.85,"v":30},{"s":"United Kingdom","t":2004.9,"v":25},{"s":"United Kingdom","t":2005,"v":22},{"s":"United Kingdom","t":2005.1,"v":21},{"s":"United Kingdom","t":2005.18,"v":16.5},{"s":"United Kingdom","t":2005.25,"v":15},{"s":"United Kingdom","t":2005.32,"v":11},{"s":"United Kingdom","t":2005.42,"v":9},{"s":"United Kingdom","t":2005.5,"v":6},{"s":"United Kingdom","t":2005.58,"v":7},{"s":"United Kingdom","t":2005.68,"v":8.5},{"s":"United Kingdom","t":2005.78,"v":5.5},{"s":"United Kingdom","t":2005.88,"v":11.5},{"s":"United Kingdom","t":2006,"v":12.5},{"s":"United Kingdom","t":2006.1,"v":11.5},{"s":"United Kingdom","t":2006.2,"v":10},{"s":"United Kingdom","t":2006.3,"v":9},{"s":"United Kingdom","t":2006.36,"v":4.5},{"s":"United Kingdom","t":2006.42,"v":27},{"s":"United Kingdom","t":2006.5,"v":30},{"s":"United Kingdom","t":2006.56,"v":32},{"s":"United Kingdom","t":2006.62,"v":38},{"s":"United Kingdom","t":2006.68,"v":40},{"s":"United Kingdom","t":2006.72,"v":42},{"s":"United Kingdom","t":2006.78,"v":37},{"s":"United Kingdom","t":2006.85,"v":33},{"s":"United Kingdom","t":2006.92,"v":30},{"s":"United Kingdom","t":2006.97,"v":18},{"s":"United Kingdom","t":2007.02,"v":12},{"s":"United Kingdom","t":2007.08,"v":4},{"s":"United Kingdom","t":2007.15,"v":3},{"s":"United Kingdom","t":2007.25,"v":9},{"s":"United Kingdom","t":2007.4,"v":10},{"s":"United Kingdom","t":2007.5,"v":14},{"s":"United Kingdom","t":2007.6,"v":15.5},{"s":"United Kingdom","t":2007.7,"v":18},{"s":"United Kingdom","t":2007.78,"v":12},{"s":"United Kingdom","t":2007.88,"v":8},{"s":"United Kingdom","t":2007.98,"v":7},{"s":"United Kingdom","t":2008.05,"v":14},{"s":"United Kingdom","t":2008.12,"v":15},{"s":"United Kingdom","t":2008.2,"v":8},{"s":"United Kingdom","t":2008.3,"v":4},{"s":"United Kingdom","t":2008.4,"v":3},{"s":"United Kingdom","t":2008.6,"v":2.5},{"s":"United Kingdom","t":2008.8,"v":2},{"s":"United Kingdom","t":2009,"v":2},{"s":"United Kingdom","t":2009.1,"v":3.5},{"s":"United Kingdom","t":2009.2,"v":9},{"s":"United Kingdom","t":2009.32,"v":10},{"s":"United Kingdom","t":2009.42,"v":12.5},{"s":"United Kingdom","t":2009.5,"v":17},{"s":"United Kingdom","t":2009.55,"v":18.5},{"s":"United Kingdom","t":2009.62,"v":12},{"s":"United Kingdom","t":2009.7,"v":9},{"s":"United Kingdom","t":2009.78,"v":5},{"s":"United Kingdom","t":2009.85,"v":4},{"s":"United Kingdom","t":2009.9,"v":11},{"s":"United Kingdom","t":2009.97,"v":16},{"s":"United Kingdom","t":2010,"v":16.5},
{"s":"Brazil","t":2000,"v":4},{"s":"Brazil","t":2000.05,"v":6},{"s":"Brazil","t":2000.1,"v":2.5},{"s":"Brazil","t":2000.18,"v":5},{"s":"Brazil","t":2000.25,"v":3},{"s":"Brazil","t":2000.35,"v":4},{"s":"Brazil","t":2000.45,"v":2.5},{"s":"Brazil","t":2000.55,"v":4},{"s":"Brazil","t":2000.7,"v":4.5},{"s":"Brazil","t":2000.85,"v":3.5},{"s":"Brazil","t":2000.98,"v":5},{"s":"Brazil","t":2001.08,"v":6},{"s":"Brazil","t":2001.15,"v":12},{"s":"Brazil","t":2001.2,"v":5},{"s":"Brazil","t":2001.3,"v":3.5},{"s":"Brazil","t":2001.4,"v":2},{"s":"Brazil","t":2001.5,"v":4},{"s":"Brazil","t":2001.62,"v":2.5},{"s":"Brazil","t":2001.75,"v":4.5},{"s":"Brazil","t":2001.88,"v":7},{"s":"Brazil","t":2001.95,"v":9},{"s":"Brazil","t":2002.05,"v":11},{"s":"Brazil","t":2002.1,"v":15},{"s":"Brazil","t":2002.15,"v":10},{"s":"Brazil","t":2002.25,"v":10},{"s":"Brazil","t":2002.35,"v":8.5},{"s":"Brazil","t":2002.45,"v":9},{"s":"Brazil","t":2002.5,"v":20.5},{"s":"Brazil","t":2002.56,"v":16},{"s":"Brazil","t":2002.65,"v":17},{"s":"Brazil","t":2002.75,"v":13},{"s":"Brazil","t":2002.85,"v":12},{"s":"Brazil","t":2002.95,"v":11},{"s":"Brazil","t":2003.1,"v":8},{"s":"Brazil","t":2003.25,"v":7},{"s":"Brazil","t":2003.35,"v":4},{"s":"Brazil","t":2003.45,"v":3},{"s":"Brazil","t":2003.55,"v":5},{"s":"Brazil","t":2003.65,"v":7},{"s":"Brazil","t":2003.75,"v":5.5},{"s":"Brazil","t":2003.85,"v":4.5},{"s":"Brazil","t":2004,"v":4},{"s":"Brazil","t":2004.15,"v":5},{"s":"Brazil","t":2004.3,"v":9},{"s":"Brazil","t":2004.45,"v":10.5},{"s":"Brazil","t":2004.55,"v":15},{"s":"Brazil","t":2004.65,"v":17},{"s":"Brazil","t":2004.72,"v":27},{"s":"Brazil","t":2004.77,"v":17},{"s":"Brazil","t":2004.85,"v":18},{"s":"Brazil","t":2004.95,"v":14},{"s":"Brazil","t":2005.1,"v":13},{"s":"Brazil","t":2005.2,"v":15},{"s":"Brazil","t":2005.3,"v":12.5},{"s":"Brazil","t":2005.45,"v":14},{"s":"Brazil","t":2005.55,"v":13},{"s":"Brazil","t":2005.65,"v":20.5},{"s":"Brazil","t":2005.75,"v":19.5},{"s":"Brazil","t":2005.85,"v":17},{"s":"Brazil","t":2005.95,"v":23},{"s":"Brazil","t":2006.02,"v":18},{"s":"Brazil","t":2006.12,"v":19},{"s":"Brazil","t":2006.22,"v":17},{"s":"Brazil","t":2006.32,"v":14},{"s":"Brazil","t":2006.42,"v":15},{"s":"Brazil","t":2006.5,"v":13},{"s":"Brazil","t":2006.6,"v":15},{"s":"Brazil","t":2006.7,"v":20},{"s":"Brazil","t":2006.8,"v":22},{"s":"Brazil","t":2006.88,"v":21},{"s":"Brazil","t":2006.95,"v":14},{"s":"Brazil","t":2007.03,"v":12},{"s":"Brazil","t":2007.1,"v":4},{"s":"Brazil","t":2007.18,"v":5},{"s":"Brazil","t":2007.28,"v":9},{"s":"Brazil","t":2007.4,"v":11},{"s":"Brazil","t":2007.52,"v":13},{"s":"Brazil","t":2007.6,"v":21},{"s":"Brazil","t":2007.66,"v":12},{"s":"Brazil","t":2007.75,"v":11},{"s":"Brazil","t":2007.85,"v":10.5},{"s":"Brazil","t":2007.95,"v":8},{"s":"Brazil","t":2008.08,"v":7.5},{"s":"Brazil","t":2008.2,"v":7},{"s":"Brazil","t":2008.3,"v":4.5},{"s":"Brazil","t":2008.42,"v":5},{"s":"Brazil","t":2008.55,"v":6},{"s":"Brazil","t":2008.65,"v":5},{"s":"Brazil","t":2008.78,"v":2.5},{"s":"Brazil","t":2008.9,"v":3},{"s":"Brazil","t":2009,"v":5},{"s":"Brazil","t":2009.1,"v":4},{"s":"Brazil","t":2009.2,"v":9.5},{"s":"Brazil","t":2009.35,"v":10},{"s":"Brazil","t":2009.45,"v":9},{"s":"Brazil","t":2009.55,"v":11},{"s":"Brazil","t":2009.62,"v":10},{"s":"Brazil","t":2009.72,"v":6},{"s":"Brazil","t":2009.82,"v":7},{"s":"Brazil","t":2009.92,"v":11},{"s":"Brazil","t":2010,"v":11}
]
},
"hconcat":[
{
 "width":482,"height":329,
 "data":{"name":"us"},
 "title":{"text":"Spillover from the United States","dx":-5},
 "mark":{"type":"line","strokeCap":"butt","strokeJoin":"round"},
 "encoding":{
  "x":{"field":"t","type":"quantitative","scale":{"domain":[2000,2010],"nice":false,"zero":false},
   "axis":{"values":[2000,2002,2004,2006,2008,2010],"labelExpr":"slice(toString(datum.value),2)","title":"CY","titleX":-49,"titleY":21,"titleAlign":"left","titleBaseline":"top","titleAnchor":"start","tickSize":7,"tickWidth":2,"tickColor":"black","domain":false,"grid":false,"labelPadding":14}},
  "y":{"field":"v","type":"quantitative","scale":{"domain":[0,50],"nice":false},
   "axis":{"values":[0,10,20,30,40,50],"grid":true,"gridDash":[7,5],"gridColor":"#222222","gridWidth":1,"ticks":false,"domain":false,"labelPadding":16,"title":"%","titleAngle":0,"titleX":4,"titleY":-20,"titleAlign":"left","titleBaseline":"middle","titleFontSize":18}},
  "color":{"field":"s","type":"nominal","scale":{"domain":["China","Germany","Brazil","Japan","United Kingdom"],"range":["#0000ff","#339966","#000000","#999999","#000000"]},
   "legend":{"orient":"none","legendX":34,"legendY":377,"columns":2,"columnPadding":87,"rowPadding":3,"symbolType":"M-3,0H3","symbolSize":625,"labelOffset":27,"title":null,"labelLimit":300}},
  "strokeDash":{"field":"s","type":"nominal","scale":{"domain":["China","Germany","Brazil","Japan","United Kingdom"],"range":[[1,0],[1,0],[1,0],[1,0],[3,4]]},
   "legend":{"orient":"none","legendX":34,"legendY":377,"columns":2,"columnPadding":87,"rowPadding":3,"symbolType":"M-3,0H3","symbolSize":625,"labelOffset":27,"title":null,"labelLimit":300}},
  "strokeWidth":{"field":"s","type":"nominal","scale":{"type":"ordinal","domain":["China","Germany","Brazil","Japan","United Kingdom"],"range":[2.5,3,1,3,3]},
   "legend":{"orient":"none","legendX":34,"legendY":377,"columns":2,"columnPadding":87,"rowPadding":3,"symbolType":"M-3,0H3","symbolSize":625,"labelOffset":27,"title":null,"labelLimit":300}}
 }
},
{
 "width":482,"height":329,
 "data":{"name":"cn"},
 "title":{"text":"Spillover from China","dx":7},
 "mark":{"type":"line","strokeCap":"butt","strokeJoin":"round"},
 "encoding":{
  "x":{"field":"t","type":"quantitative","scale":{"domain":[2000,2010],"nice":false,"zero":false},
   "axis":{"values":[2000,2002,2004,2006,2008,2010],"labelExpr":"slice(toString(datum.value),2)","title":"CY","titleX":-49,"titleY":21,"titleAlign":"left","titleBaseline":"top","titleAnchor":"start","tickSize":7,"tickWidth":2,"tickColor":"black","domain":false,"grid":false,"labelPadding":14}},
  "y":{"field":"v","type":"quantitative","scale":{"domain":[0,50],"nice":false},
   "axis":{"values":[0,10,20,30,40,50],"grid":true,"gridDash":[7,5],"gridColor":"#222222","gridWidth":1,"ticks":false,"domain":false,"labelPadding":16,"title":"%","titleAngle":0,"titleX":4,"titleY":-20,"titleAlign":"left","titleBaseline":"middle","titleFontSize":18}},
  "color":{"field":"s","type":"nominal","scale":{"domain":["United States","Germany","Brazil","Japan","United Kingdom"],"range":["#0000ff","#339966","#000000","#999999","#000000"]},
   "legend":{"orient":"none","legendX":45,"legendY":375,"columns":2,"columnPadding":65,"rowPadding":3,"symbolType":"M-3,0H3","symbolSize":625,"labelOffset":27,"title":null,"labelLimit":300}},
  "strokeDash":{"field":"s","type":"nominal","scale":{"domain":["United States","Germany","Brazil","Japan","United Kingdom"],"range":[[1,0],[1,0],[1,0],[1,0],[3,4]]},
   "legend":{"orient":"none","legendX":45,"legendY":375,"columns":2,"columnPadding":65,"rowPadding":3,"symbolType":"M-3,0H3","symbolSize":625,"labelOffset":27,"title":null,"labelLimit":300}},
  "strokeWidth":{"field":"s","type":"nominal","scale":{"type":"ordinal","domain":["United States","Germany","Brazil","Japan","United Kingdom"],"range":[2.5,3,1,3,3]},
   "legend":{"orient":"none","legendX":45,"legendY":375,"columns":2,"columnPadding":65,"rowPadding":3,"symbolType":"M-3,0H3","symbolSize":625,"labelOffset":27,"title":null,"labelLimit":300}}
 }
}
],
"resolve":{"scale":{"color":"independent","strokeDash":"independent","strokeWidth":"independent"},"legend":{"color":"independent","strokeDash":"independent","strokeWidth":"independent"}}
}
